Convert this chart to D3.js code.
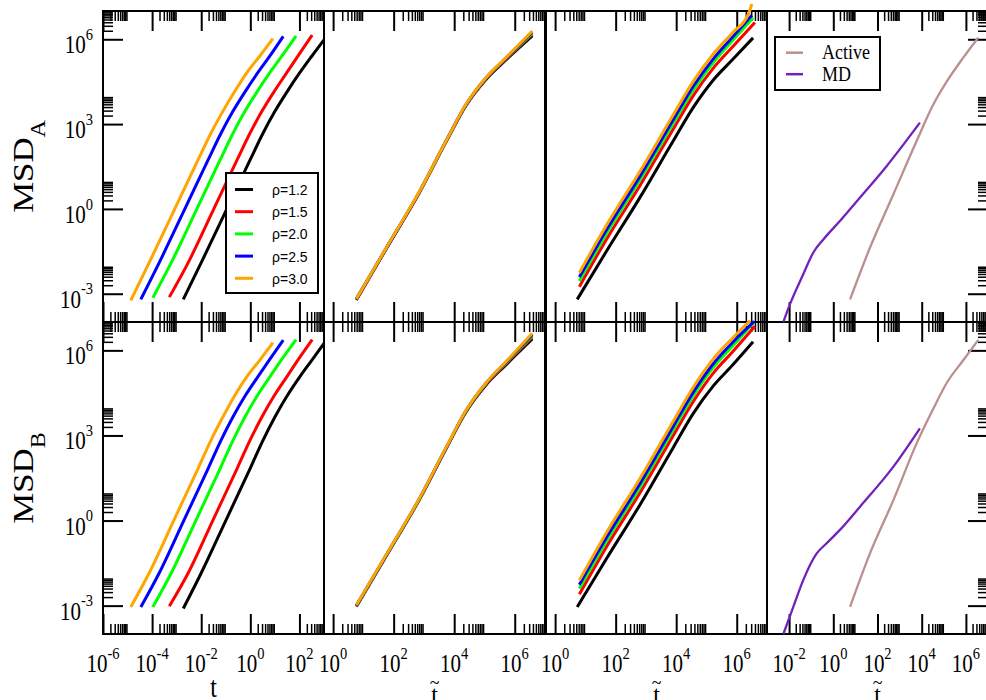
<!DOCTYPE html>
<html>
<head>
<meta charset="utf-8">
<script src="https://cdn.jsdelivr.net/npm/d3@7"></script>
<style>
  body { margin: 0; background: #fff; }
  svg { display: block; }
</style>
</head>
<body>
<svg id="chart" width="986" height="700"></svg>
<script>
// all values are log10 exponents

const seriesNames = ['ρ=1.2', 'ρ=1.5', 'ρ=2.0', 'ρ=2.5', 'ρ=3.0']
const seriesColors = ['#000000', '#ff0000', '#00ff00', '#0000ff', '#ffa500']
const compareNames = ['Active', 'MD']
const compareColors = ['#bc8f8f', '#7221bc']

// column 1: MSD vs t
const tRaw = [
  [-2.73, -2.0, -1.0, 0.0, 0.5, 1.0, 1.5, 2.0, 2.5, 3.0],
  [-3.30, -2.53, -1.53, -0.53, -0.03, 0.47, 0.97, 1.47, 1.97, 2.52],
  [-3.97, -3.22, -2.22, -1.22, -0.72, -0.22, 0.28, 0.78, 1.28, 1.86],
  [-4.46, -3.71, -2.71, -1.71, -1.21, -0.71, -0.21, 0.29, 0.79, 1.34],
  [-4.87, -4.12, -3.12, -2.12, -1.62, -1.12, -0.62, -0.12, 0.38, 0.92]
]
const msdRawA = [
  [-3.20, -1.90, -0.08, 1.75, 2.65, 3.45, 4.15, 4.80, 5.40, 5.98],
  [-3.12, -1.90, -0.08, 1.75, 2.65, 3.45, 4.15, 4.80, 5.45, 6.15],
  [-3.14, -1.90, -0.08, 1.75, 2.65, 3.45, 4.15, 4.80, 5.40, 6.12],
  [-3.20, -1.90, -0.08, 1.75, 2.65, 3.45, 4.15, 4.80, 5.40, 6.10],
  [-3.24, -1.90, -0.08, 1.75, 2.65, 3.45, 4.18, 4.85, 5.40, 6.02]
]
const msdRawB = [
  [-3.10, -1.85, 0.00, 1.85, 2.80, 3.65, 4.40, 5.05, 5.65, 6.25],
  [-3.02, -1.85, 0.00, 1.85, 2.80, 3.65, 4.40, 5.05, 5.70, 6.38],
  [-3.05, -1.85, 0.00, 1.85, 2.80, 3.65, 4.40, 5.05, 5.68, 6.38],
  [-3.05, -1.85, 0.00, 1.85, 2.80, 3.65, 4.40, 5.05, 5.68, 6.36],
  [-3.05, -1.85, 0.00, 1.85, 2.80, 3.65, 4.43, 5.10, 5.65, 6.27]
]

// column 2: MSD vs scaled time
const tScaled = [0.77, 1.76, 2.86, 3.73, 4.39, 5.05, 5.71, 6.58]
const msdScaledA = [
  [-3.22, -1.40, 0.60, 2.37, 3.66, 4.58, 5.27, 6.12],
  [-3.20, -1.39, 0.61, 2.38, 3.67, 4.60, 5.30, 6.18],
  [-3.19, -1.38, 0.62, 2.39, 3.68, 4.62, 5.32, 6.22],
  [-3.18, -1.38, 0.62, 2.40, 3.69, 4.63, 5.33, 6.26],
  [-3.18, -1.37, 0.63, 2.40, 3.70, 4.64, 5.35, 6.29]
]
const msdScaledB = [
  [-3.03, -1.24, 0.76, 2.53, 3.83, 4.78, 5.49, 6.40],
  [-3.01, -1.23, 0.77, 2.54, 3.85, 4.81, 5.53, 6.47],
  [-3.00, -1.22, 0.78, 2.55, 3.86, 4.83, 5.56, 6.52],
  [-2.99, -1.21, 0.79, 2.56, 3.87, 4.84, 5.58, 6.56],
  [-2.98, -1.20, 0.80, 2.57, 3.88, 4.85, 5.60, 6.60]
]

// column 3: MSD vs rescaled time
const tRescaledA = [
  [0.73, 1.70, 2.80, 3.90, 4.56, 5.22, 5.88, 6.54],
  [0.80, 1.70, 2.80, 3.90, 4.56, 5.22, 5.88, 6.60],
  [0.80, 1.70, 2.80, 3.90, 4.56, 5.22, 5.88, 6.54],
  [0.80, 1.70, 2.80, 3.90, 4.56, 5.22, 5.88, 6.50],
  [0.80, 1.70, 2.80, 3.90, 4.56, 5.22, 5.88, 6.38, 6.50]
]
const msdRescaledA = [
  [-3.20, -1.49, 0.40, 2.40, 3.58, 4.55, 5.30, 6.05],
  [-2.75, -1.07, 0.82, 2.82, 4.00, 4.97, 5.75, 6.59],
  [-2.55, -0.87, 1.02, 3.02, 4.20, 5.17, 5.97, 6.76],
  [-2.41, -0.74, 1.15, 3.15, 4.33, 5.30, 6.10, 6.85],
  [-2.26, -0.57, 1.32, 3.32, 4.50, 5.47, 6.25, 6.88, 7.25]
]
const tRescaledB = [
  [0.73, 1.70, 2.80, 3.90, 4.56, 5.22, 5.88, 6.54],
  [0.80, 1.70, 2.80, 3.90, 4.56, 5.22, 5.88, 6.60],
  [0.80, 1.70, 2.80, 3.90, 4.56, 5.22, 5.88, 6.58],
  [0.80, 1.70, 2.80, 3.90, 4.56, 5.22, 5.88, 6.58],
  [0.80, 1.70, 2.80, 3.90, 4.56, 5.22, 5.88, 6.25, 6.45]
]
const msdRescaledB = [
  [-3.05, -1.34, 0.55, 2.57, 3.77, 4.74, 5.50, 6.30],
  [-2.60, -0.92, 0.97, 2.99, 4.19, 5.19, 5.97, 6.85],
  [-2.40, -0.72, 1.17, 3.19, 4.39, 5.39, 6.17, 7.00],
  [-2.26, -0.59, 1.30, 3.32, 4.52, 5.52, 6.30, 7.02],
  [-2.11, -0.42, 1.47, 3.49, 4.69, 5.69, 6.45, 6.85, 7.05]
]

// column 4: active vs MD
const activeT = [0.76, 1.66, 2.72, 3.77, 4.53, 5.13, 5.88, 6.56]
const activeA = [-3.20, -1.37, 0.52, 2.40, 3.70, 4.50, 5.35, 6.06]
const activeB = [-3.04, -1.16, 0.72, 2.72, 3.95, 4.85, 5.65, 6.37]
const mdTA = [-2.26, -1.96, -1.36, -0.91, -0.45, 0.30, 1.21, 2.42, 3.92]
const mdA = [-4.00, -3.37, -2.31, -1.55, -1.08, -0.43, 0.40, 1.52, 3.05]
const mdTB = [-2.26, -1.81, -1.36, -0.75, -0.30, 0.30, 1.21, 2.72, 3.92]
const mdB = [-4.00, -3.04, -2.10, -1.16, -0.80, -0.33, 0.49, 1.90, 3.25]

// axes
const xDomainExp = [[-6, 3], [-0.301, 7], [-0.301, 7], [-3, 7]]
const xMajorExp = [[-6, -4, -2, 0, 2], [0, 2, 4, 6], [0, 2, 4, 6], [-2, 0, 2, 4, 6]]
const yDomainExp = [-4, 7]
const yMajorExp = [-3, 0, 3, 6]
const minorFactors = [2, 3, 4, 5, 6, 7, 8, 9]
const xTitles = ['t', 't', 't', 't']
const xTitleTilde = [false, true, true, true]
const yTitles = ['A', 'B']

const SERIF = '"Liberation Serif", "Times New Roman", serif'
const SANS = '"Liberation Sans", Arial, sans-serif'
const COL_LEFT = [103, 324, 546, 767]
const COL_W = 221
const ROWS = [[11, 322], [322, 634]]

const pow10 = (e) => Math.pow(10, e)
const svg = d3.select('#chart')

const panelSeries = (row, col) => {
  if (col === 0) return tRaw.map((t, i) => ({ t, m: (row ? msdRawB : msdRawA)[i], color: seriesColors[i], w: 3 }))
  if (col === 1) return seriesColors.map((color, i) => ({ t: tScaled, m: (row ? msdScaledB : msdScaledA)[i], color, w: 3 }))
  if (col === 2) return seriesColors.map((color, i) => ({
    t: (row ? tRescaledB : tRescaledA)[i], m: (row ? msdRescaledB : msdRescaledA)[i], color, w: 3
  }))
  return [
    { t: row ? mdTB : mdTA, m: row ? mdB : mdA, color: compareColors[1], w: 2.3 },
    { t: activeT, m: row ? activeB : activeA, color: compareColors[0], w: 2.3 }
  ]
}

const styleAxis = (g, width) => {
  g.select('.domain').remove()
  g.selectAll('.tick line').attr('stroke', '#000').attr('stroke-width', width)
}

const powLabel = (g, x, y, exp, anchor) => {
  const text = g.append('text')
    .attr('transform', `translate(${x},${y}) scale(1,1.16)`)
    .attr('text-anchor', anchor)
    .attr('font-family', SERIF)
    .attr('font-size', 21)
    .text('10')
  text.append('tspan').attr('dy', -11.5).attr('font-size', 14.5).text(exp)
}

const panels = svg.append('g')
const marks = svg.append('g')

ROWS.forEach(([top, bottom], row) => {
  COL_LEFT.forEach((left, col) => {
    const x = d3.scaleLog().domain(xDomainExp[col].map(pow10)).range([left, left + COL_W])
    const y = d3.scaleLog().domain(yDomainExp.map(pow10)).range([bottom, top])
    const g = panels.append('g')

    const xMajor = xMajorExp[col].map(pow10)
    const [xlo, xhi] = x.domain()
    const xMinor = xMajor.flatMap(v => minorFactors.map(k => k * v)).filter(v => v >= xlo && v <= xhi)
    const yMajor = yMajorExp.map(pow10)
    const yMinor = yMajor.flatMap(v => minorFactors.map(k => k * v))

    // x ticks, pointing inward on top and bottom
    g.append('g').attr('transform', `translate(0,${bottom})`)
      .call(d3.axisBottom(x).tickValues(xMajor).tickSize(-20).tickFormat(''))
      .call(s => styleAxis(s, 2))
    g.append('g').attr('transform', `translate(0,${bottom})`)
      .call(d3.axisBottom(x).tickValues(xMinor).tickSize(-10).tickFormat(''))
      .call(s => styleAxis(s, 1.5))
    g.append('g').attr('transform', `translate(0,${top})`)
      .call(d3.axisTop(x).tickValues(xMajor).tickSize(-20).tickFormat(''))
      .call(s => styleAxis(s, 2))
    g.append('g').attr('transform', `translate(0,${top})`)
      .call(d3.axisTop(x).tickValues(xMinor).tickSize(-10).tickFormat(''))
      .call(s => styleAxis(s, 1.5))

    // y ticks on the outer columns only
    if (col === 0 || col === 3) {
      const axisFn = col === 0 ? d3.axisLeft : d3.axisRight
      const xPos = col === 0 ? left : left + COL_W
      g.append('g').attr('transform', `translate(${xPos},0)`)
        .call(axisFn(y).tickValues(yMajor).tickSize(-20).tickFormat(''))
        .call(s => styleAxis(s, 2))
      g.append('g').attr('transform', `translate(${xPos},0)`)
        .call(axisFn(y).tickValues(yMinor).tickSize(-10).tickFormat(''))
        .call(s => styleAxis(s, 1.5))
    }

    g.append('rect')
      .attr('x', left).attr('y', top)
      .attr('width', COL_W).attr('height', bottom - top)
      .attr('fill', 'none').attr('stroke', '#000').attr('stroke-width', 2)

    // labels
    if (row === 1) {
      xMajorExp[col].forEach(e => powLabel(g, x(pow10(e)), 672, String(e), 'middle'))
      const cx = left + COL_W / 2
      const tilde = xTitleTilde[col]
      g.append('text')
        .attr('transform', `translate(${cx},${tilde ? 702 : 697}) scale(1,${tilde ? 1.0 : 1.2})`)
        .attr('text-anchor', 'middle')
        .attr('font-family', SERIF)
        .attr('font-size', 24)
        .text(xTitles[col])
      if (tilde) {
        g.append('text')
          .attr('transform', `translate(${cx},689)`)
          .attr('text-anchor', 'middle')
          .attr('font-family', SERIF)
          .attr('font-size', 18)
          .text('~')
      }
    }
    if (col === 0) {
      yMajorExp.forEach(e => powLabel(g, 93, y(pow10(e)) + 14, String(e), 'end'))
      const title = g.append('text')
        .attr('transform', `translate(33,${(top + bottom) / 2}) scale(1,1.2) rotate(-90)`)
        .attr('text-anchor', 'middle')
        .attr('font-family', SERIF)
        .attr('font-size', 29)
        .text('MSD')
      title.append('tspan').attr('dy', 12).attr('font-size', 20).text(yTitles[row])
    }

    // data lines
    const line = d3.line()
      .x(d => x(pow10(d[0])))
      .y(d => y(pow10(d[1])))
      .curve(d3.curveMonotoneX)
    panelSeries(row, col).forEach(s => {
      marks.append('path')
        .datum(d3.zip(s.t, s.m))
        .attr('d', line)
        .attr('fill', 'none')
        .attr('stroke', s.color)
        .attr('stroke-width', s.w)
        .attr('stroke-linejoin', 'round')
    })
  })
})

// legend for densities
const legend1 = svg.append('g')
legend1.append('rect')
  .attr('x', 226).attr('y', 173).attr('width', 92).attr('height', 120)
  .attr('fill', '#fff').attr('stroke', '#000').attr('stroke-width', 2)
seriesNames.forEach((name, i) => {
  const ly = 189.5 + i * 22.2
  legend1.append('line')
    .attr('x1', 235).attr('x2', 253).attr('y1', ly).attr('y2', ly)
    .attr('stroke', seriesColors[i]).attr('stroke-width', 3)
  legend1.append('text')
    .attr('x', 272).attr('y', ly + 5.5)
    .attr('font-family', SANS).attr('font-size', 14)
    .text(name)
})

// legend for active / MD
const legend2 = svg.append('g')
legend2.append('rect')
  .attr('x', 775).attr('y', 37).attr('width', 105).attr('height', 53)
  .attr('fill', '#fff').attr('stroke', '#000').attr('stroke-width', 2)
compareNames.forEach((name, i) => {
  const ly = 52.7 + i * 21.5
  legend2.append('line')
    .attr('x1', 786).attr('x2', 803).attr('y1', ly).attr('y2', ly)
    .attr('stroke', compareColors[i]).attr('stroke-width', 2.5)
  legend2.append('text')
    .attr('transform', `translate(822,${ly + 6.5}) scale(1,1.18)`)
    .attr('font-family', SERIF).attr('font-size', 18)
    .text(name)
})
</script>
</body>
</html>
